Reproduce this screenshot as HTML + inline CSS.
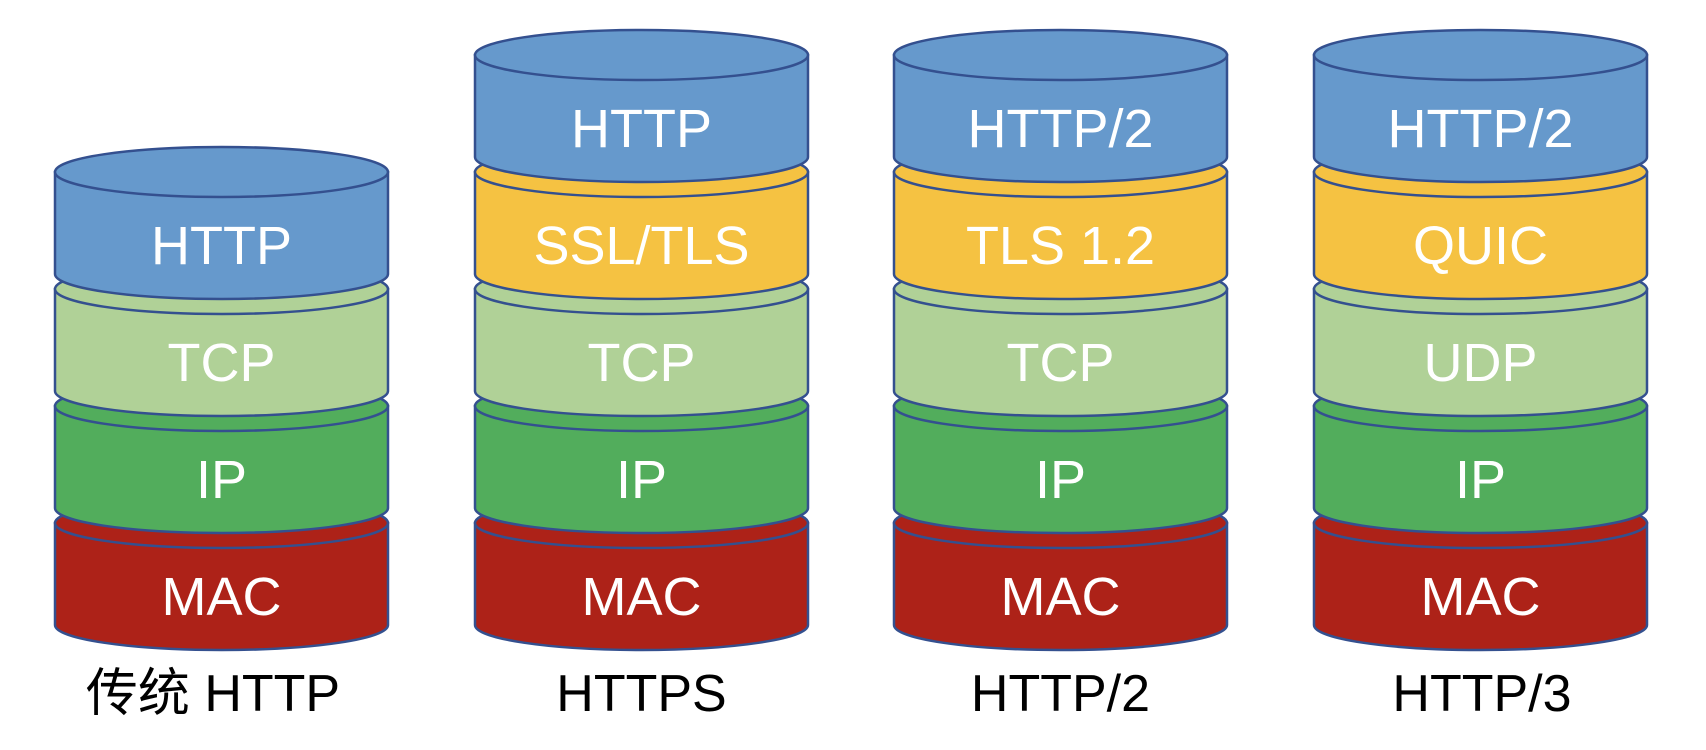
<!DOCTYPE html>
<html><head><meta charset="utf-8"><style>
html,body{margin:0;padding:0;background:#fff;}
svg{display:block;}
text{font-family:"Liberation Sans","Noto Sans CJK SC",sans-serif;text-anchor:middle;}
.l{fill:#fff;font-size:54px;}
.c{fill:#000;font-size:52px;}
</style></head><body>
<svg width="1706" height="750" viewBox="0 0 1706 750" xmlns="http://www.w3.org/2000/svg">
<g stroke="#34508f" stroke-width="2.5">
<g>
<path d="M55,523 V625 A166.5,25 0 0 0 388,625 V523 Z" fill="#ad2218"/><ellipse cx="221.5" cy="523" rx="166.5" ry="25" fill="#ad2218"/>
<path d="M55,406 V508 A166.5,25 0 0 0 388,508 V406 Z" fill="#52ad5c"/><ellipse cx="221.5" cy="406" rx="166.5" ry="25" fill="#52ad5c"/>
<path d="M55,289 V391 A166.5,25 0 0 0 388,391 V289 Z" fill="#b0d197"/><ellipse cx="221.5" cy="289" rx="166.5" ry="25" fill="#b0d197"/>
<path d="M55,172 V274 A166.5,25 0 0 0 388,274 V172 Z" fill="#6699cc"/><ellipse cx="221.5" cy="172" rx="166.5" ry="25" fill="#6699cc"/>
</g>
<g transform="translate(420,0)">
<path d="M55,523 V625 A166.5,25 0 0 0 388,625 V523 Z" fill="#ad2218"/><ellipse cx="221.5" cy="523" rx="166.5" ry="25" fill="#ad2218"/>
<path d="M55,406 V508 A166.5,25 0 0 0 388,508 V406 Z" fill="#52ad5c"/><ellipse cx="221.5" cy="406" rx="166.5" ry="25" fill="#52ad5c"/>
<path d="M55,289 V391 A166.5,25 0 0 0 388,391 V289 Z" fill="#b0d197"/><ellipse cx="221.5" cy="289" rx="166.5" ry="25" fill="#b0d197"/>
<path d="M55,172 V274 A166.5,25 0 0 0 388,274 V172 Z" fill="#f5c242"/><ellipse cx="221.5" cy="172" rx="166.5" ry="25" fill="#f5c242"/>
<path d="M55,55 V157 A166.5,25 0 0 0 388,157 V55 Z" fill="#6699cc"/><ellipse cx="221.5" cy="55" rx="166.5" ry="25" fill="#6699cc"/>
</g>
<g transform="translate(839,0)">
<path d="M55,523 V625 A166.5,25 0 0 0 388,625 V523 Z" fill="#ad2218"/><ellipse cx="221.5" cy="523" rx="166.5" ry="25" fill="#ad2218"/>
<path d="M55,406 V508 A166.5,25 0 0 0 388,508 V406 Z" fill="#52ad5c"/><ellipse cx="221.5" cy="406" rx="166.5" ry="25" fill="#52ad5c"/>
<path d="M55,289 V391 A166.5,25 0 0 0 388,391 V289 Z" fill="#b0d197"/><ellipse cx="221.5" cy="289" rx="166.5" ry="25" fill="#b0d197"/>
<path d="M55,172 V274 A166.5,25 0 0 0 388,274 V172 Z" fill="#f5c242"/><ellipse cx="221.5" cy="172" rx="166.5" ry="25" fill="#f5c242"/>
<path d="M55,55 V157 A166.5,25 0 0 0 388,157 V55 Z" fill="#6699cc"/><ellipse cx="221.5" cy="55" rx="166.5" ry="25" fill="#6699cc"/>
</g>
<g transform="translate(1259,0)">
<path d="M55,523 V625 A166.5,25 0 0 0 388,625 V523 Z" fill="#ad2218"/><ellipse cx="221.5" cy="523" rx="166.5" ry="25" fill="#ad2218"/>
<path d="M55,406 V508 A166.5,25 0 0 0 388,508 V406 Z" fill="#52ad5c"/><ellipse cx="221.5" cy="406" rx="166.5" ry="25" fill="#52ad5c"/>
<path d="M55,289 V391 A166.5,25 0 0 0 388,391 V289 Z" fill="#b0d197"/><ellipse cx="221.5" cy="289" rx="166.5" ry="25" fill="#b0d197"/>
<path d="M55,172 V274 A166.5,25 0 0 0 388,274 V172 Z" fill="#f5c242"/><ellipse cx="221.5" cy="172" rx="166.5" ry="25" fill="#f5c242"/>
<path d="M55,55 V157 A166.5,25 0 0 0 388,157 V55 Z" fill="#6699cc"/><ellipse cx="221.5" cy="55" rx="166.5" ry="25" fill="#6699cc"/>
</g>
</g>
<g>
<text class="l" x="221.5" y="264">HTTP</text>
<text class="l" x="221.5" y="381">TCP</text>
<text class="l" x="221.5" y="498">IP</text>
<text class="l" x="221.5" y="615">MAC</text>

<text class="l" x="641.5" y="147">HTTP</text>
<text class="l" x="641.5" y="264">SSL/TLS</text>
<text class="l" x="641.5" y="381">TCP</text>
<text class="l" x="641.5" y="498">IP</text>
<text class="l" x="641.5" y="615">MAC</text>

<text class="l" x="1060.5" y="147">HTTP/2</text>
<text class="l" x="1060.5" y="264">TLS 1.2</text>
<text class="l" x="1060.5" y="381">TCP</text>
<text class="l" x="1060.5" y="498">IP</text>
<text class="l" x="1060.5" y="615">MAC</text>

<text class="l" x="1480.5" y="147">HTTP/2</text>
<text class="l" x="1480.5" y="264">QUIC</text>
<text class="l" x="1480.5" y="381">UDP</text>
<text class="l" x="1480.5" y="498">IP</text>
<text class="l" x="1480.5" y="615">MAC</text>
</g>
<text class="c" x="213" y="711">传统 HTTP</text>
<text class="c" x="641.5" y="711">HTTPS</text>
<text class="c" x="1060.5" y="711">HTTP/2</text>
<text class="c" x="1482" y="711">HTTP/3</text>
</svg>
</body></html>
